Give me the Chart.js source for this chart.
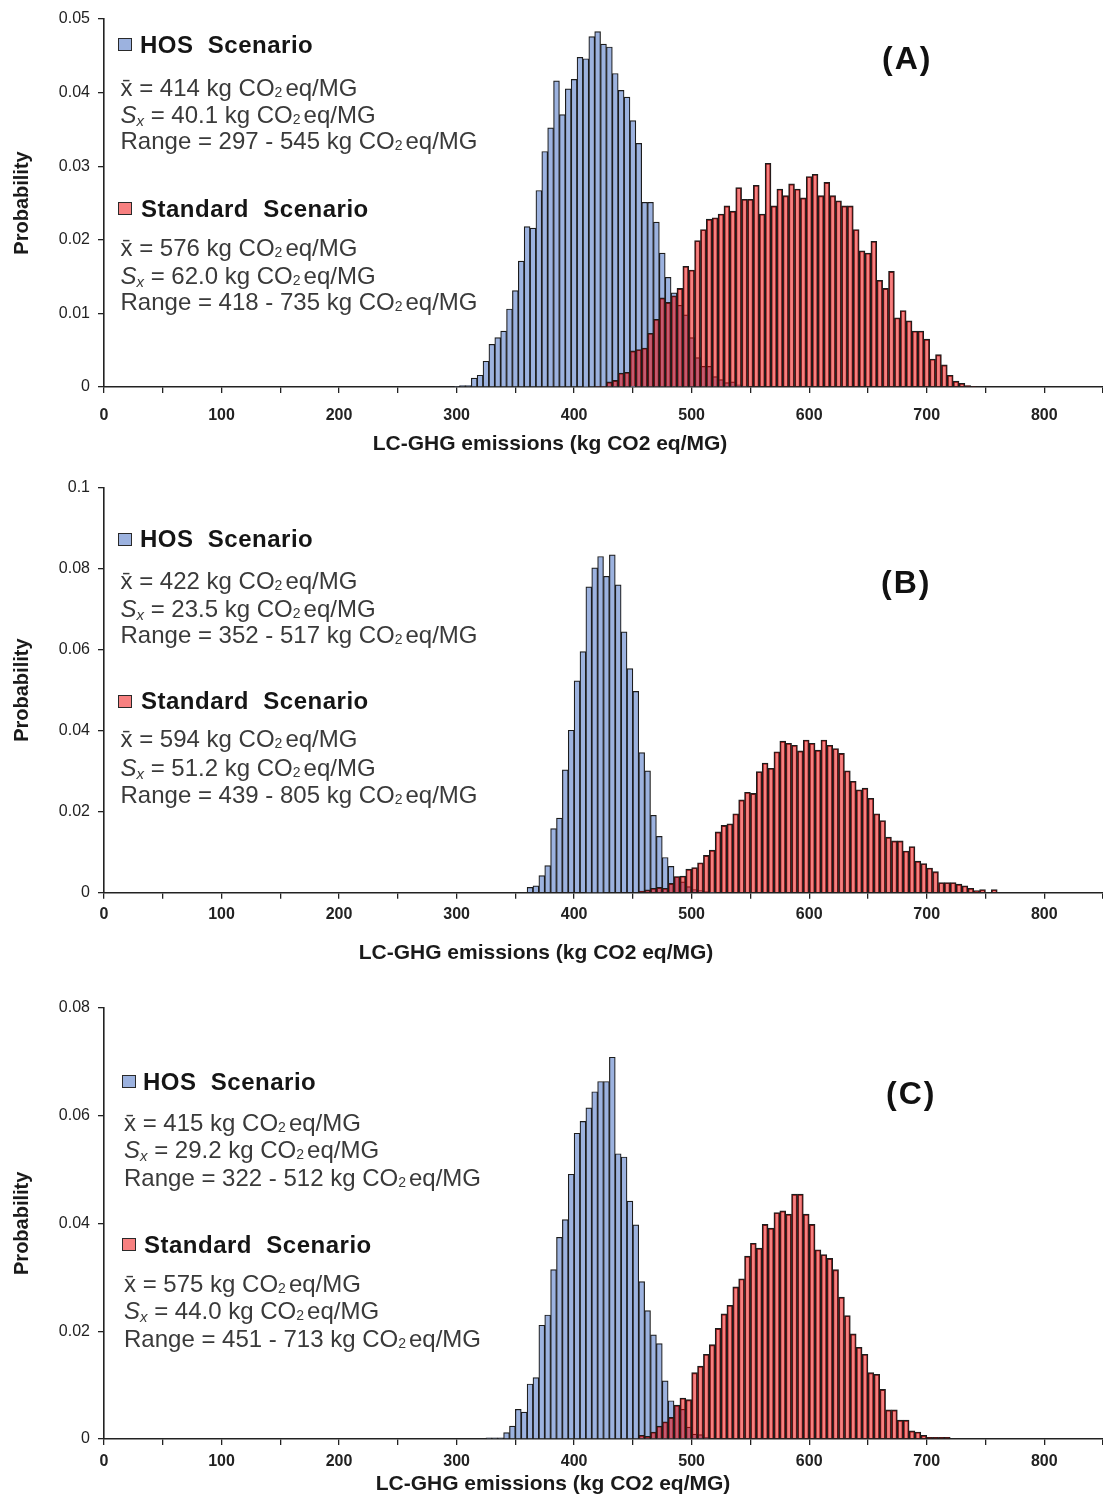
<!DOCTYPE html>
<html>
<head>
<meta charset="utf-8">
<title>LC-GHG emissions distributions</title>
<script src="https://cdn.jsdelivr.net/npm/chart.js@4.4.1/dist/chart.umd.min.js"></script>
<style>
  html, body { margin: 0; padding: 0; background: #fff; }
  #page { position: relative; width: 1103px; height: 1496px; overflow: hidden;
          font-family: "Liberation Sans", Arial, Helvetica, sans-serif; }
  #page canvas { position: absolute; left: 0; }
  .hdr { position: absolute; font-weight: bold; font-size: 24px; line-height: 28px;
         color: #151515; white-space: pre; letter-spacing: 0.5px; }
  .sw  { position: absolute; width: 12px; height: 11px; border: 1.5px solid #2a2a2a; }
  .st  { position: absolute; font-size: 24px; line-height: 27px; color: #3a3a3a; white-space: nowrap; }
  .st .sub2 { font-size: 14px; position: relative; top: 1px; margin-right: 3px; }
  .st .sx { font-size: 15px; position: relative; top: 3px; font-style: italic; }
  .tag { position: absolute; font-weight: bold; font-size: 32px; line-height: 36px; color: #111;
         letter-spacing: 2px; white-space: nowrap; }
  .xt  { position: absolute; width: 600px; text-align: center; font-weight: bold; font-size: 21px;
         line-height: 26px; color: #1a1a1a; white-space: nowrap; }
</style>
</head>
<body>
<div id="page">
  <canvas id="chartA" width="1103" height="455" style="top:0px"></canvas>
  <canvas id="chartB" width="1103" height="495" style="top:470px"></canvas>
  <canvas id="chartC" width="1103" height="506" style="top:990px"></canvas>
</div>
<script>
// ---------- Panel A: bin centres and probabilities ----------
const binsA_hos = [300,305,310,315,320,325,330,335,340,345,350,355,360,365,370,375,380,385,390,395,
                   400,405,410,415,420,425,430,435,440,445,450,455,460,465,470,475,480,485,490,495,
                   500,505,510,515,520,525,530,535,540,545];
const probA_hos = [0.0001,0.0002,0.0002,0.0012,0.0016,0.0035,0.0058,0.0067,0.0076,0.0106,
                   0.0131,0.0171,0.0218,0.0216,0.0267,0.0320,0.0352,0.0416,0.0370,0.0405,
                   0.0418,0.0448,0.0446,0.0476,0.0483,0.0466,0.0462,0.0426,0.0403,0.0394,
                   0.0362,0.0331,0.0251,0.0251,0.0224,0.0182,0.0149,0.0128,0.0111,0.0098,
                   0.0067,0.0040,0.0028,0.0028,0.0014,0.0010,0.0006,0.0007,0.0003,0.0001];
const binsA_std = [420,425,430,435,440,445,450,455,460,465,470,475,480,485,490,495,500,505,510,515,
                   520,525,530,535,540,545,550,555,560,565,570,575,580,585,590,595,600,605,610,615,
                   620,625,630,635,640,645,650,655,660,665,670,675,680,685,690,695,700,705,710,715,
                   720,725,730,735,740];
const probA_std = [0.0001,0.0001,0.0007,0.0009,0.0019,0.0020,0.0049,0.0051,0.0053,0.0073,
                   0.0092,0.0121,0.0115,0.0124,0.0134,0.0164,0.0159,0.0199,0.0214,0.0228,
                   0.0230,0.0235,0.0246,0.0239,0.0271,0.0255,0.0255,0.0274,0.0235,0.0304,
                   0.0246,0.0269,0.0260,0.0276,0.0269,0.0257,0.0286,0.0289,0.0260,0.0278,
                   0.0260,0.0253,0.0246,0.0246,0.0214,0.0185,0.0182,0.0198,0.0145,0.0134,
                   0.0157,0.0094,0.0104,0.0090,0.0076,0.0076,0.0065,0.0038,0.0044,0.0030,
                   0.0016,0.0008,0.0005,0.0002,0.0001];

// ---------- Panel B ----------
const binsB_hos = [362.5,367.5,372.5,377.5,382.5,387.5,392.5,397.5,402.5,407.5,412.5,417.5,422.5,427.5,
                   432.5,437.5,442.5,447.5,452.5,457.5,462.5,467.5,472.5,477.5,482.5,487.5,492.5,497.5,
                   502.5,507.5,512.5,517.5];
const probB_hos = [0.0013,0.0017,0.0042,0.0067,0.0158,0.0184,0.0303,0.0401,0.0523,0.0595,
                   0.0755,0.0802,0.0830,0.0781,0.0834,0.0760,0.0644,0.0553,0.0497,0.0346,
                   0.0301,0.0191,0.0139,0.0087,0.0065,0.0039,0.0027,0.0015,0.0008,0.0005,
                   0.0003,0.0001];
const binsB_std = [457.5,462.5,467.5,472.5,477.5,482.5,487.5,492.5,497.5,502.5,507.5,512.5,517.5,522.5,
                   527.5,532.5,537.5,542.5,547.5,552.5,557.5,562.5,567.5,572.5,577.5,582.5,587.5,592.5,
                   597.5,602.5,607.5,612.5,617.5,622.5,627.5,632.5,637.5,642.5,647.5,652.5,657.5,662.5,
                   667.5,672.5,677.5,682.5,687.5,692.5,697.5,702.5,707.5,712.5,717.5,722.5,727.5,732.5,
                   737.5,742.5,747.5,752.5,757.5];
const probB_std = [0.0004,0.0007,0.0011,0.0013,0.0011,0.0023,0.0040,0.0041,0.0058,0.0062,
                   0.0074,0.0092,0.0105,0.0150,0.0166,0.0170,0.0195,0.0229,0.0248,0.0245,
                   0.0299,0.0320,0.0307,0.0348,0.0374,0.0369,0.0364,0.0350,0.0377,0.0369,
                   0.0352,0.0377,0.0364,0.0356,0.0344,0.0301,0.0275,0.0254,0.0258,0.0233,
                   0.0195,0.0178,0.0137,0.0128,0.0128,0.0103,0.0114,0.0078,0.0072,0.0061,
                   0.0052,0.0025,0.0025,0.0025,0.0021,0.0017,0.0011,0.0005,0.0008,0.0000,
                   0.0008];

// ---------- Panel C ----------
const binsC_hos = [327.5,332.5,337.5,342.5,347.5,352.5,357.5,362.5,367.5,372.5,377.5,382.5,387.5,392.5,
                   397.5,402.5,407.5,412.5,417.5,422.5,427.5,432.5,437.5,442.5,447.5,452.5,457.5,462.5,
                   467.5,472.5,477.5,482.5,487.5,492.5,497.5,502.5,507.5,512.5];
const probC_hos = [0.0002,0.0002,0.0002,0.0012,0.0024,0.0055,0.0050,0.0102,0.0114,0.0211,
                   0.0230,0.0314,0.0374,0.0407,0.0491,0.0567,0.0589,0.0614,0.0644,0.0663,
                   0.0663,0.0708,0.0529,0.0523,0.0441,0.0397,0.0292,0.0238,0.0193,0.0177,
                   0.0108,0.0071,0.0062,0.0055,0.0022,0.0009,0.0008,0.0003];
const binsC_std = [457.5,462.5,467.5,472.5,477.5,482.5,487.5,492.5,497.5,502.5,507.5,512.5,517.5,522.5,
                   527.5,532.5,537.5,542.5,547.5,552.5,557.5,562.5,567.5,572.5,577.5,582.5,587.5,592.5,
                   597.5,602.5,607.5,612.5,617.5,622.5,627.5,632.5,637.5,642.5,647.5,652.5,657.5,662.5,
                   667.5,672.5,677.5,682.5,687.5,692.5,697.5,702.5,707.5,712.5,717.5];
const probC_std = [0.0007,0.0005,0.0013,0.0024,0.0032,0.0040,0.0063,0.0076,0.0073,0.0123,
                   0.0135,0.0157,0.0175,0.0205,0.0232,0.0248,0.0282,0.0297,0.0339,0.0363,
                   0.0354,0.0398,0.0391,0.0420,0.0423,0.0417,0.0454,0.0454,0.0417,0.0398,
                   0.0351,0.0342,0.0335,0.0314,0.0263,0.0229,0.0195,0.0170,0.0157,0.0123,
                   0.0120,0.0092,0.0054,0.0054,0.0035,0.0035,0.0015,0.0013,0.0007,0.0003,
                   0.0003,0.0003,0.0003];

// ---------- Summary statistics: mean, std. dev., min, max ----------
const statsA_hos = ['414', '40.1', '297', '545'];
const statsA_std = ['576', '62.0', '418', '735'];
const statsB_hos = ['422', '23.5', '352', '517'];
const statsB_std = ['594', '51.2', '439', '805'];
const statsC_hos = ['415', '29.2', '322', '512'];
const statsC_std = ['575', '44.0', '451', '713'];

// ---------- Axis settings ----------
const xTickLabels = ['0', '100', '200', '300', '400', '500', '600', '700', '800'];
const yMaxA = 0.05, yStepA = 0.01;
const yMaxB = 0.1,  yStepB = 0.02;
const yMaxC = 0.08, yStepC = 0.02;

const FONT = '"Liberation Sans", Arial, Helvetica, sans-serif';
const EDGE = '#1c1c1c';
const HOS_FILL = '#9cb2df';
const STD_FILL = 'rgba(240, 0, 0, 0.5)';
const AXIS = '#222';

function makeHistogram(canvasId, hx, hy, sx, sy, yMax, yStep, lay) {
  const toPts = (xs, ys) => xs.map((x, i) => ({ x: x, y: ys[i] }));
  const barStyle = {
    borderColor: EDGE, borderWidth: 1.2, borderSkipped: 'start',
    grouped: false, barPercentage: 1, categoryPercentage: 1
  };
  return new Chart(document.getElementById(canvasId), {
    type: 'bar',
    data: {
      datasets: [
        Object.assign({ label: 'HOS Scenario', data: toPts(hx, hy), backgroundColor: HOS_FILL, order: 1 }, barStyle),
        Object.assign({ label: 'Standard Scenario', data: toPts(sx, sy), backgroundColor: STD_FILL, order: 0 }, barStyle)
      ]
    },
    options: {
      responsive: false,
      animation: false,
      events: [],
      layout: { padding: { top: lay.top, left: 10, right: 0, bottom: 0 } },
      plugins: { legend: { display: false }, tooltip: { enabled: false } },
      scales: {
        x: {
          type: 'linear', min: 0, max: 850, offset: false,
          ticks: {
            stepSize: 50, autoSkip: false, maxRotation: 0, padding: lay.xPad,
            color: AXIS, font: { family: FONT, size: 16, weight: 'bold' },
            callback: (v) => xTickLabels.includes(String(v)) ? String(v) : ''
          },
          grid: { drawOnChartArea: false, drawTicks: true, tickLength: 6, color: AXIS, lineWidth: 1.3, offset: false },
          border: { display: true, color: AXIS, width: 1.6 },
          afterFit: (s) => { s.height = lay.xH; s.paddingRight = 0; s.paddingLeft = 0; }
        },
        y: {
          type: 'linear', min: 0, max: yMax,
          ticks: {
            stepSize: yStep, padding: 8, color: AXIS,
            font: { family: FONT, size: 16 },
            callback: (v) => String(+v.toFixed(4))
          },
          grid: { drawOnChartArea: false, drawTicks: true, tickLength: 6, color: AXIS, lineWidth: 1.3 },
          border: { display: true, color: AXIS, width: 1.6 },
          title: { display: true, text: 'Probability', color: '#1a1a1a', padding: 0,
                   font: { family: FONT, size: 20, weight: 'bold' } },
          afterFit: (s) => { s.width = 94; }
        }
      }
    }
  });
}

makeHistogram('chartA', binsA_hos, probA_hos, binsA_std, probA_std, yMaxA, yStepA, { top: 19, xH: 68, xPad: 13 });
makeHistogram('chartB', binsB_hos, probB_hos, binsB_std, probB_std, yMaxB, yStepB, { top: 15, xH: 72.3, xPad: 6 });
makeHistogram('chartC', binsC_hos, probC_hos, binsC_std, probC_std, yMaxC, yStepC, { top: 16, xH: 57, xPad: 7 });

// ---------- Annotation blocks (scenario headers, statistics, panel tags, x titles) ----------
const page = document.getElementById('page');
function add(cls, left, top, html, extraStyle) {
  const d = document.createElement('div');
  d.className = cls;
  d.style.left = left + 'px';
  d.style.top = top + 'px';
  if (extraStyle) d.style.cssText += extraStyle;
  d.innerHTML = html;
  page.appendChild(d);
  return d;
}
const unit = ' kg CO<span class="sub2">2</span>eq/MG';
function statLines(st) {
  return [
    'x\u0304 = ' + st[0] + unit,
    '<i>S</i><span class="sx">x</span> = ' + st[1] + unit,
    'Range = ' + st[2] + ' - ' + st[3] + unit
  ];
}
function scenario(name, fill, sqX, sqY, txtX, hdrCy, statX, statCys, st) {
  add('sw', sqX, sqY, '', 'background:' + fill + ';');
  add('hdr', txtX, hdrCy - 13.7, name);
  statLines(st).forEach((line, i) => add('st', statX, statCys[i] - 13.8, line));
}

// Panel A
scenario('HOS  Scenario', '#9cb2df', 118, 38, 140, 45, 120.5, [87.5, 115, 140.5], statsA_hos);
scenario('Standard  Scenario', '#f78080', 118, 202, 141, 208.5, 120.5, [247.5, 275.5, 301.5], statsA_std);
add('tag', 882, 58 - 18.3, '(A)');
add('xt', 550 - 300, 442.5 - 12.75, 'LC-GHG emissions (kg CO2 eq/MG)');

// Panel B
scenario('HOS  Scenario', '#9cb2df', 118, 533, 140, 539, 120.5, [580.5, 609, 635], statsB_hos);
scenario('Standard  Scenario', '#f78080', 118, 695, 141, 700.5, 120.5, [739, 767.5, 795], statsB_std);
add('tag', 881, 582.5 - 18.3, '(B)');
add('xt', 536 - 300, 952 - 12.75, 'LC-GHG emissions (kg CO2 eq/MG)');

// Panel C
scenario('HOS  Scenario', '#9cb2df', 122, 1075, 143, 1081.5, 124, [1123, 1150, 1177.5], statsC_hos);
scenario('Standard  Scenario', '#f78080', 122, 1238, 144, 1245, 124, [1284, 1311, 1339], statsC_std);
add('tag', 886, 1093 - 18.3, '(C)');
add('xt', 553 - 300, 1483 - 12.75, 'LC-GHG emissions (kg CO2 eq/MG)');
</script>
</body>
</html>
